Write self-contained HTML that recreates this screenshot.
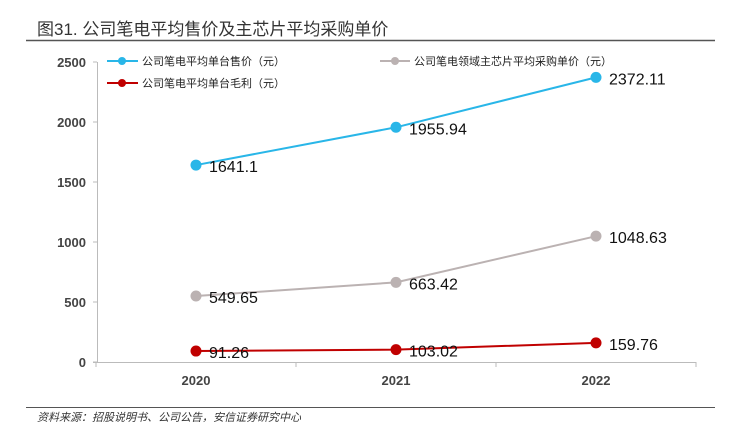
<!DOCTYPE html>
<html><head><meta charset="utf-8"><style>
body{margin:0;background:#fff;}
svg{display:block;font-family:"Liberation Sans","Noto Sans CJK SC",sans-serif;}
</style></head><body>
<svg id="c" width="735" height="432" xmlns="http://www.w3.org/2000/svg">
<text x="37" y="35" font-size="17" fill="#333">图31. 公司笔电平均售价及主芯片平均采购单价</text>
<line x1="26" y1="40.5" x2="715" y2="40.5" stroke="#555" stroke-width="1.5"/>
<line x1="26" y1="407.5" x2="715" y2="407.5" stroke="#555" stroke-width="1"/>
<text x="37" y="421" font-size="11" font-style="italic" fill="#333">资料来源：招股说明书、公司公告，安信证券研究中心</text>
<g id="axes"></g><g id="series"></g>
<g font-size="11" fill="#222">
<g><line x1="107" y1="61" x2="138" y2="61" stroke="#29b6e8" stroke-width="2"/><circle cx="122" cy="61" r="4" fill="#29b6e8"/><text x="142" y="65">公司笔电平均单台售价（元）</text></g>
<g><line x1="380" y1="61" x2="410" y2="61" stroke="#bbb2b2" stroke-width="2"/><circle cx="395" cy="61" r="4" fill="#bbb2b2"/><text x="414" y="65">公司笔电领域主芯片平均采购单价（元）</text></g>
<g><line x1="107" y1="83" x2="138" y2="83" stroke="#c00000" stroke-width="2"/><circle cx="122" cy="83" r="4" fill="#c00000"/><text x="142" y="87">公司笔电平均单台毛利（元）</text></g>
</g>
</svg>
<script>
const categories=["2020","2021","2022"];
const aspValues=[1641.1,1955.94,2372.11];
const chipValues=[549.65,663.42,1048.63];
const grossValues=[91.26,103.02,159.76];
const yTicks=[0,500,1000,1500,2000,2500];
const NS="http://www.w3.org/2000/svg";
const y=v=>362-v*300/2500;
const x=i=>196+i*200;
function mk(t,a,p){const e=document.createElementNS(NS,t);for(const k in a)e.setAttribute(k,a[k]);p.appendChild(e);return e;}
const ax=document.getElementById('axes');
const yl=mk('line',{x1:97.5,y1:62,x2:97.5,y2:362,stroke:'#bbb'},ax);


yTicks.forEach(v=>{
 mk('line',{x1:93,y1:y(v),x2:97,y2:y(v),stroke:'#bbb'},ax);
 const t=mk('text',{x:86,y:y(v)+5,'text-anchor':'end','font-size':13,'font-weight':'bold',fill:'#444'},ax);t.textContent=v;
 
 
});
const xl=mk('line',{x1:93,y1:362.5,x2:696,y2:362.5,stroke:'#bbb'},ax);


[0,1,2,3].forEach(i=>mk('line',{x1:96+i*200,y1:362,x2:96+i*200,y2:367,stroke:'#bbb'},ax));
categories.forEach((c,i)=>{const t=mk('text',{x:x(i),y:385,'text-anchor':'middle','font-size':13,'font-weight':'bold',fill:'#444'},ax);t.textContent=c;
 
 });
const sg=document.getElementById('series');
[[aspValues,'#29b6e8','asp'],[chipValues,'#bbb2b2','chip'],[grossValues,'#c00000','gross']].forEach(([vals,col,n])=>{
 const p=mk('polyline',{points:vals.map((v,i)=>x(i)+','+y(v)).join(' '),fill:'none',stroke:col,'stroke-width':2},sg);
 
 
 vals.forEach((v,i)=>{
  const c=mk('circle',{cx:x(i),cy:y(v),r:5.5,fill:col},sg);
  
  
  const t=mk('text',{x:x(i)+13,y:y(v)+7,'font-size':16,fill:'#111'},sg);t.textContent=v;
  
  
 });
});
</script>
</body></html>
